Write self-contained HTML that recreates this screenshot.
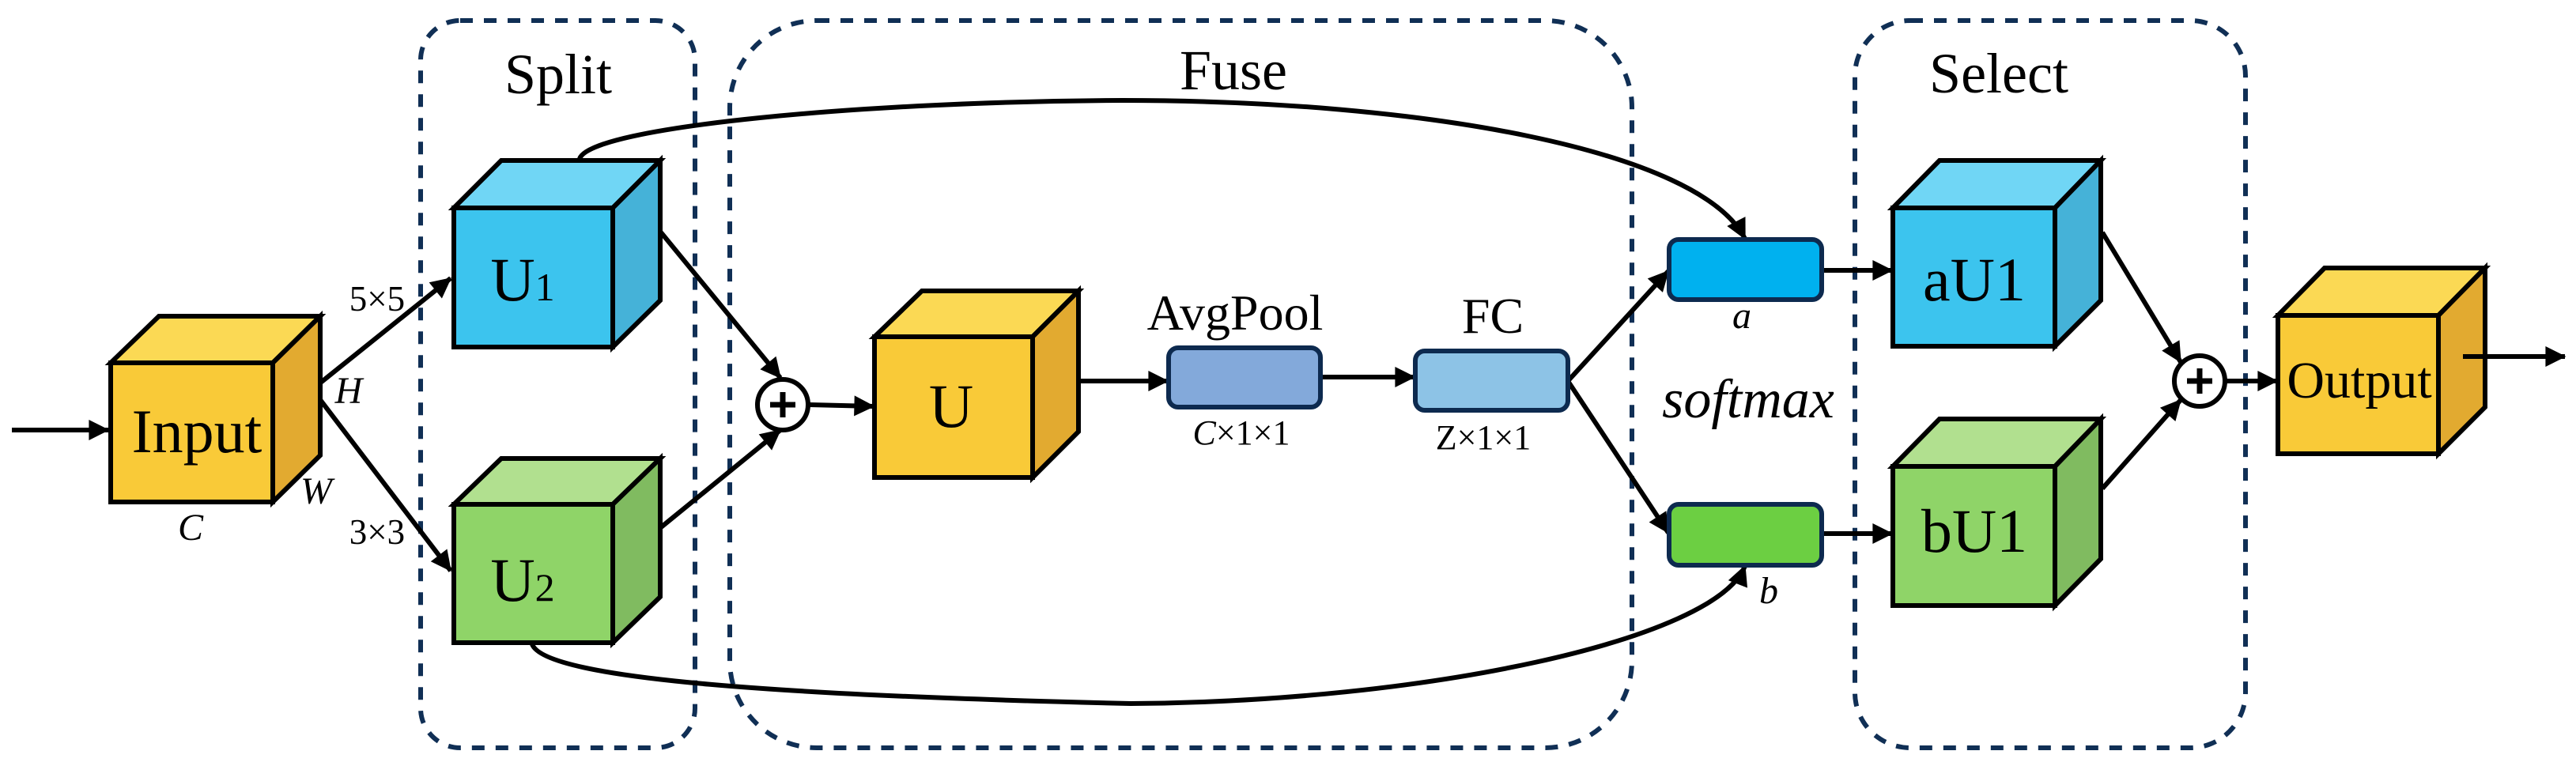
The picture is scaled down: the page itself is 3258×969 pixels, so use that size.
<!DOCTYPE html>
<html><head><meta charset="utf-8"><style>
html,body{margin:0;padding:0;background:#fff;}
svg{display:block;}
svg text{font-family:"Liberation Serif","DejaVu Serif","Times New Roman",Times,serif !important;fill:#000;}
</style></head><body>
<svg width="3258" height="969" viewBox="0 0 3258 969" xmlns="http://www.w3.org/2000/svg" font-family="Liberation Serif, DejaVu Serif, Times New Roman, serif">
<defs>
<marker id="ah" markerWidth="10" markerHeight="10" refX="9" refY="5" orient="auto" markerUnits="userSpaceOnUse" viewBox="0 0 10 10" style="overflow:visible">
<path d="M0,0 L10,5 L0,10 z" fill="#000" transform="scale(2.6) translate(-6,-3.1)"/>
</marker>
</defs>
<g fill="none" stroke="#102f55" stroke-width="6" stroke-dasharray="16,14">
<rect x="532" y="26" width="347" height="920" rx="50"/>
<rect x="923" y="26" width="1141" height="920" rx="110"/>
<rect x="2346" y="26" width="494" height="920" rx="70"/>
</g>
<g font-size="72" text-anchor="middle">
<text x="706" y="118">Split</text>
<text x="1560" y="113">Fuse</text>
<text x="2528" y="117">Select</text>
</g>

<g stroke="#000" stroke-width="6" fill="none">
<line x1="15" y1="544" x2="137" y2="544" marker-end="url(#ah)"/>
<line x1="393" y1="494" x2="570" y2="352" marker-end="url(#ah)"/>
<line x1="393" y1="490" x2="570" y2="722" marker-end="url(#ah)"/>
<line x1="836" y1="294" x2="987" y2="478" marker-end="url(#ah)"/>
<line x1="836" y1="667" x2="987" y2="544" marker-end="url(#ah)"/>
<line x1="1024" y1="512" x2="1105" y2="514" marker-end="url(#ah)"/>
<line x1="1367" y1="482" x2="1477" y2="482" marker-end="url(#ah)"/>
<line x1="1670" y1="477" x2="1789" y2="477" marker-end="url(#ah)"/>
<line x1="1983" y1="482" x2="2110" y2="343" marker-end="url(#ah)"/>
<line x1="1983" y1="482" x2="2110" y2="674" marker-end="url(#ah)"/>
<line x1="2304" y1="342" x2="2393" y2="342" marker-end="url(#ah)"/>
<line x1="2304" y1="675" x2="2393" y2="675" marker-end="url(#ah)"/>
<line x1="2659" y1="294" x2="2758" y2="458" marker-end="url(#ah)"/>
<line x1="2659" y1="618" x2="2758" y2="506" marker-end="url(#ah)"/>
<line x1="2816" y1="482" x2="2880" y2="482" marker-end="url(#ah)"/>
<path d="M733,201 C745,160 1100,128 1420,127 C1800,127 2150,190 2207,302" marker-end="url(#ah)"/>
<path d="M673,815 C690,860 1000,880 1430,890 C1800,888 2170,810 2207,716" marker-end="url(#ah)"/>
</g>
<g font-size="45" text-anchor="middle">
<text x="477" y="393">5×5</text>
<text x="477" y="688">3×3</text>
</g>
<g font-size="48" font-style="italic" text-anchor="middle">
<text x="441" y="510">H</text>
<text x="400" y="637">W</text>
<text x="241" y="683">C</text>
<text x="2203" y="415">a</text>
<text x="2237" y="763">b</text>
</g>

<g stroke="#000" stroke-width="6" stroke-linejoin="miter">
<polygon points="140,459 201,400 405,400 345,459" fill="#fbd954"/>
<polygon points="345,459 405,400 405,576 345,635" fill="#e2aa30"/>
<rect x="140" y="459" width="205" height="176" fill="#f9ca38"/>
<polygon points="574,263 634,203 835,203 775,263" fill="#70d6f5"/>
<polygon points="775,263 835,203 835,380 775,439" fill="#45b2d8"/>
<rect x="574" y="263" width="201" height="176" fill="#3cc4ee"/>
<polygon points="574,638 634,580 835,580 775,638" fill="#b1e08f"/>
<polygon points="775,638 835,580 835,755 775,813" fill="#80bb60"/>
<rect x="574" y="638" width="201" height="175" fill="#8fd468"/>
<polygon points="1106,426 1166,368 1364,368 1306,426" fill="#fbd954"/>
<polygon points="1306,426 1364,368 1364,546 1306,604" fill="#e2aa30"/>
<rect x="1106" y="426" width="200" height="178" fill="#f9ca38"/>
<polygon points="2394,263 2453,203 2657,203 2599,263" fill="#70d6f5"/>
<polygon points="2599,263 2657,203 2657,380 2599,438" fill="#45b2d8"/>
<rect x="2394" y="263" width="205" height="175" fill="#3cc4ee"/>
<polygon points="2394,590 2453,530 2657,530 2599,590" fill="#b1e08f"/>
<polygon points="2599,590 2657,530 2657,707 2599,766" fill="#80bb60"/>
<rect x="2394" y="590" width="205" height="176" fill="#8fd468"/>
<polygon points="2881,399 2940,339 3143,339 3084,399" fill="#fbd954"/>
<polygon points="3084,399 3143,339 3143,515 3084,574" fill="#e2aa30"/>
<rect x="2881" y="399" width="203" height="175" fill="#f9ca38"/>
</g>
<line x1="3115" y1="451" x2="3244" y2="451" stroke="#000" stroke-width="6" marker-end="url(#ah)"/>

<g stroke="#0d2a4f" stroke-width="6">
<rect x="1478" y="440" width="192" height="75" rx="12" fill="#83a9da"/>
<rect x="1790" y="444" width="193" height="75" rx="12" fill="#8dc3e6"/>
<rect x="2111" y="303" width="193" height="76" rx="12" fill="#00b1ef"/>
<rect x="2111" y="638" width="193" height="77" rx="12" fill="#6ccf42"/>
</g>

<g stroke="#000" stroke-width="6" fill="#fff">
<circle cx="990" cy="512" r="32"/>
<circle cx="2782" cy="482" r="32"/>
</g>
<g stroke="#000" stroke-width="7">
<line x1="974" y1="512" x2="1006" y2="512"/><line x1="990" y1="496" x2="990" y2="528"/>
<line x1="2766" y1="482" x2="2798" y2="482"/><line x1="2782" y1="466" x2="2782" y2="498"/>
</g>

<g font-size="78" text-anchor="middle">
<text x="249" y="572">Input</text>
<text x="661" y="380">U<tspan font-size="50">1</tspan></text>
<text x="661" y="760">U<tspan font-size="50">2</tspan></text>
<text x="1203" y="540">U</text>
<text x="2497" y="380">aU1</text>
<text x="2497" y="698">bU1</text>
</g>
<text x="2984" y="503" font-size="66" text-anchor="middle">Output</text>
<g font-size="64" text-anchor="middle">
<text x="1562" y="417">AvgPool</text>
<text x="1888" y="421">FC</text>
</g>
<g font-size="44" text-anchor="middle">
<text x="1570" y="562"><tspan font-style="italic">C</tspan>×1×1</text>
<text x="1876" y="568">Z×1×1</text>
</g>
<text x="2211" y="528" font-size="70" font-style="italic" text-anchor="middle">softmax</text>
</svg>
</body></html>
